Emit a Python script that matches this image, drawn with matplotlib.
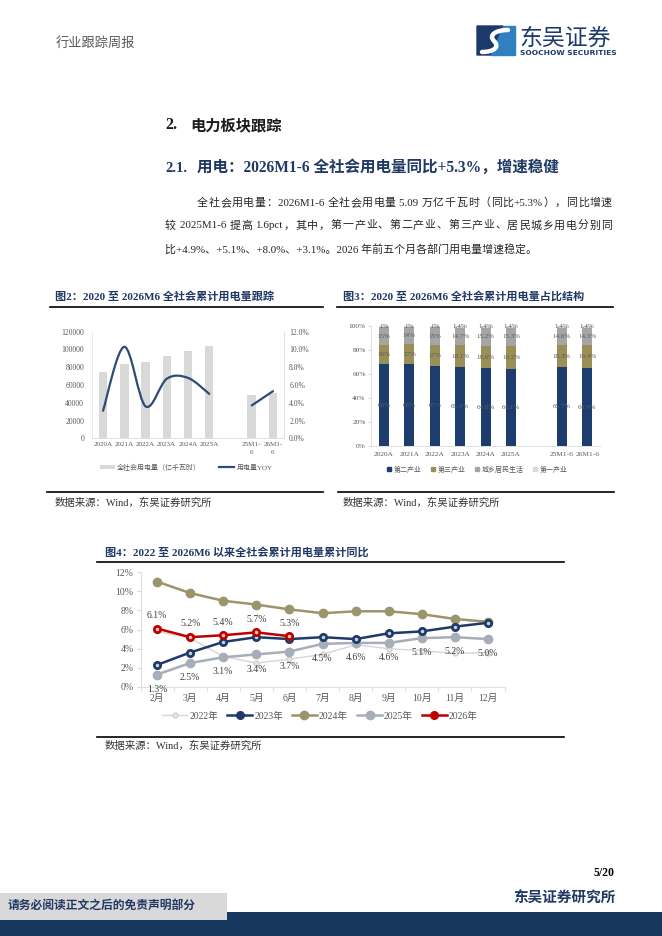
import numpy as np
import matplotlib
matplotlib.use('Agg')
import matplotlib.pyplot as plt
from matplotlib.path import Path
from matplotlib.patches import PathPatch, Rectangle, Polygon, Patch
from matplotlib.lines import Line2D

W, H = 662, 936
SERIF = ['Liberation Serif', 'Noto Sans CJK SC']
CJK = ['Noto Sans CJK SC', 'Liberation Serif']
plt.rcParams['font.family'] = SERIF
plt.rcParams['axes.unicode_minus'] = False

# ---------------- data ----------------
fig2_cats = ['2020A', '2021A', '2022A', '2023A', '2024A', '2025A', '', '25M1-\n6', '26M1-\n6']
fig2_power = [75110, 83128, 86372, 92241, 98521, 103682, np.nan, 48418, 50950]
fig2_yoy = [3.1, 10.3, 3.6, 6.7, 6.8, 5.0, np.nan, 3.7, 5.3]
fig2_left_ticks = [0, 20000, 40000, 60000, 80000, 100000, 120000]
fig2_right_ticks = [0, 2, 4, 6, 8, 10, 12]

fig3_cats = ['2020A', '2021A', '2022A', '2023A', '2024A', '2025A', '', '25M1-6', '26M1-6']
fig3_secondary = [68, 68, 67, 65.8, 64.8, 64.1, np.nan, 65.7, 64.9]
fig3_tertiary = [16, 17, 17, 18.1, 18.6, 19.2, np.nan, 18.3, 19.4]
fig3_resident = [15, 14, 15, 14.7, 15.2, 15.3, np.nan, 14.6, 14.3]
fig3_primary = [1, 1, 1, 1.4, 1.4, 1.4, np.nan, 1.4, 1.4]
fig3_series_names = ['第二产业', '第三产业', '城乡居民生活', '第一产业']
fig3_yticks = [0, 20, 40, 60, 80, 100]

fig4_months = ['2月', '3月', '4月', '5月', '6月', '7月', '8月', '9月', '10月', '11月', '12月']
fig4_2022 = [5.8, 5.1, 3.2, 2.5, 2.9, 3.4, 4.4, 4.0, 3.8, 3.5, 3.6]
fig4_2023 = [2.3, 3.6, 4.7, 5.2, 5.0, 5.2, 5.0, 5.6, 5.8, 6.3, 6.7]
fig4_2024 = [11.0, 9.8, 9.0, 8.6, 8.1, 7.7, 7.9, 7.9, 7.6, 7.1, 6.8]
fig4_2025 = [1.3, 2.5, 3.1, 3.4, 3.7, 4.5, 4.6, 4.6, 5.1, 5.2, 5.0]
fig4_2026 = [6.1, 5.2, 5.4, 5.7, 5.3]
fig4_series_names = ['2022年', '2023年', '2024年', '2025年', '2026年']
fig4_yticks = [0, 2, 4, 6, 8, 10, 12]

para_lines = ['全社会用电量：2026M1-6 全社会用电量 5.09 万亿千瓦时（同比+5.3%），同比增速',
              '较 2025M1-6 提高 1.6pct，其中，第一产业、第二产业、第三产业、居民城乡用电分别同',
              '比+4.9%、+5.1%、+8.0%、+3.1%。2026 年前五个月各部门用电量增速稳定。']

NAVY = '#1f3864'
TXT = '#262626'
TICK = '#595959'
AXC = '#d9d9d9'


def box(x0, y0, x1, y1):
    return [x0 / W, 1 - y1 / H, (x1 - x0) / W, (y1 - y0) / H]


fig = plt.figure(figsize=(W / 100, H / 100), dpi=100)
fig.patch.set_facecolor('white')
renderer = fig.canvas.get_renderer()

# ---------------- overlay (page) ----------------
ov = fig.add_axes([0, 0, 1, 1])
ov.set_xlim(0, W)
ov.set_ylim(H, 0)
ov.axis('off')
ov.patch.set_alpha(0)


def text_width(s, size):
    t = ov.text(0, 0, s + '|', fontsize=size)
    w = t.get_window_extent(renderer).width
    t.remove()
    t2 = ov.text(0, 0, '|', fontsize=size)
    w2 = t2.get_window_extent(renderer).width
    t2.remove()
    return w - w2


def tokens_of(s):
    toks = []
    cur = ''
    for ch in s:
        if ord(ch) < 128:
            cur += ch
        else:
            if cur:
                toks.append(cur)
                cur = ''
            toks.append(ch)
    if cur:
        toks.append(cur)
    return toks


def justified_text(x0, x1, y, s, size, color):
    toks = tokens_of(s)
    total = text_width(s, size)
    extra = (x1 - x0 - total) / max(len(toks) - 1, 1)
    prefix = ''
    for i, tk in enumerate(toks):
        lead = len(tk) - len(tk.lstrip(' '))
        xpos = x0 + text_width(prefix + tk[:lead], size) + i * extra
        ov.text(xpos, y, tk.lstrip(' '), fontsize=size, color=color, va='center')
        prefix += tk


ov.text(56, 43, '行业跟踪周报', fontsize=9.5, color='#595959', family=CJK, va='center')

# logo
ov.add_patch(Polygon([(477, 26), (503, 26), (491, 55), (477, 55)], closed=True, color='#1b3a6b'))
ov.add_patch(Polygon([(503, 26), (515, 26), (515, 55), (491, 55)], closed=True, color='#2f7fc1'))
s_path = Path([(508, 30), (496, 30), (488, 35), (494, 41), (500, 47), (494, 52), (482, 52)],
              [Path.MOVETO, Path.CURVE4, Path.CURVE4, Path.CURVE4, Path.CURVE4, Path.CURVE4, Path.CURVE4])
ov.add_patch(PathPatch(s_path, facecolor='none', edgecolor='white', lw=3.2, capstyle='round'))
ov.text(519, 38, '东吴证券', fontsize=16.5, color='#1b3a6b', family=CJK, va='center', ha='left')
ov.text(520, 53, 'SOOCHOW SECURITIES', fontsize=5.4, color='#1b3a6b', family=['DejaVu Sans'],
        fontweight='bold', va='center', ha='left')

# headings
ov.text(165, 125, '2.', fontsize=11.5, color='#1a1a1a', fontweight='bold', va='center')
ov.text(190, 125, '电力板块跟踪', fontsize=11, color='#1a1a1a', fontweight='bold', va='center', family=CJK)
ov.text(165, 168, '2.1.', fontsize=10.5, color=NAVY, fontweight='bold', va='center')
ov.text(197, 168, '用电：2026M1-6 全社会用电量同比+5.3%，增速稳健', fontsize=11.2, color=NAVY,
        fontweight='bold', va='center')

# paragraph
PS = 7.9
justified_text(197, 612, 203, para_lines[0], PS, TXT)
justified_text(165, 612, 226, para_lines[1], PS, TXT)
ov.text(165, 249, para_lines[2], fontsize=PS, color=TXT, va='center')

# figure titles and rules
ov.text(55, 296, '图2：2020 至 2026M6 全社会累计用电量跟踪', fontsize=8, color=NAVY, fontweight='bold', va='center')
ov.text(343, 296, '图3：2020 至 2026M6 全社会累计用电量占比结构', fontsize=8, color=NAVY, fontweight='bold', va='center')
ov.plot([50, 323], [307, 307], color='black', lw=1.2)
ov.plot([337, 613], [307, 307], color='black', lw=1.2)
ov.plot([47, 323], [492, 492], color='black', lw=1.2)
ov.plot([338, 614], [492, 492], color='black', lw=1.2)
ov.text(55, 503, '数据来源：Wind，东吴证券研究所', fontsize=7.5, color='#333333', va='center')
ov.text(343, 503, '数据来源：Wind，东吴证券研究所', fontsize=7.5, color='#333333', va='center')

ov.text(105, 552, '图4：2022 至 2026M6 以来全社会累计用电量累计同比', fontsize=8, color=NAVY, fontweight='bold', va='center')
ov.plot([97, 564], [562, 562], color='black', lw=1.2)
ov.plot([97, 564], [737, 737], color='black', lw=1.2)
ov.text(105, 746, '数据来源：Wind，东吴证券研究所', fontsize=7.5, color='#333333', va='center')

# footer
ov.text(615, 873, '5/20', fontsize=8.5, color='black', fontweight='bold', ha='right', va='center')
ov.text(615, 898, '东吴证券研究所', fontsize=10.5, color=NAVY, fontweight='bold', ha='right', va='center', family=CJK)
ov.add_patch(Rectangle((0, 912), W, 24, color='#17375e', lw=0))
ov.add_patch(Rectangle((0, 893), 227, 27, color='#d9d9d9', lw=0))
ov.text(8, 906, '请务必阅读正文之后的免责声明部分', fontsize=8.5, color=NAVY, fontweight='bold', va='center', family=CJK)


def style_ticks(ax, size):
    ax.tick_params(axis='both', labelsize=size, colors=TICK, length=0)


# ---------------- Figure 2 ----------------
ax2 = fig.add_axes(box(92.4, 331.7, 283.6, 438.3))
ax2.patch.set_alpha(0)
x2 = np.arange(len(fig2_cats))
ax2.bar(x2, fig2_power, width=0.4, color='#d9d9d9', zorder=2)
ax2.set_xlim(-0.5, len(fig2_cats) - 0.5)
ax2.set_ylim(0, 120000)
ax2.set_yticks(fig2_left_ticks)
ax2.set_yticklabels([str(v) for v in fig2_left_ticks])
ax2.set_xticks(x2)
ax2.set_xticklabels(fig2_cats, linespacing=1.6)
style_ticks(ax2, 5.5)
ax2.tick_params(axis='x', pad=3, labelsize=5.1)
ax2.tick_params(axis='y', pad=6)
for s in ['top', 'right']:
    ax2.spines[s].set_visible(False)
ax2.spines['left'].set_color('#e6e6e6')
ax2.spines['bottom'].set_color(AXC)
ax2.spines['left'].set_linewidth(0.6)
ax2.spines['bottom'].set_linewidth(0.6)

ax2r = ax2.twinx()
ax2r.set_ylim(0, 12)
ax2r.set_yticks(fig2_right_ticks)
ax2r.set_yticklabels(['%.1f%%' % v for v in fig2_right_ticks])
style_ticks(ax2r, 5.5)
ax2r.tick_params(axis='y', pad=4)
for s in ['top', 'left', 'bottom']:
    ax2r.spines[s].set_visible(False)
ax2r.spines['right'].set_color(AXC)
ax2r.spines['right'].set_linewidth(0.6)


def smooth_path(xs, ys):
    pts = np.column_stack([xs, ys])
    n = len(pts)
    verts = [tuple(pts[0])]
    codes = [Path.MOVETO]
    for i in range(n - 1):
        p0 = pts[i - 1] if i > 0 else pts[i]
        p1 = pts[i]
        p2 = pts[i + 1]
        p3 = pts[i + 2] if i + 2 < n else pts[i + 1]
        c1 = p1 + (p2 - p0) / 6.0
        c2 = p2 - (p3 - p1) / 6.0
        verts += [tuple(c1), tuple(c2), tuple(p2)]
        codes += [Path.CURVE4] * 3
    return Path(verts, codes)


yoy = np.array(fig2_yoy, dtype=float)
valid = ~np.isnan(yoy)
groups = []
cur = []
for i in range(len(yoy)):
    if valid[i]:
        cur.append(i)
    else:
        if cur:
            groups.append(cur)
        cur = []
if cur:
    groups.append(cur)
for g in groups:
    p = smooth_path(x2[g].astype(float), yoy[g])
    ax2r.add_patch(PathPatch(p, facecolor='none', edgecolor='#2e4a76', lw=1.6, zorder=3,
                             capstyle='round', joinstyle='round'))

leg2 = fig.legend([Patch(facecolor='#d9d9d9', edgecolor='none'), Line2D([], [], color='#2e4a76', lw=1.6)],
                  ['全社会用电量（亿千瓦时）', '用电量YOY'], loc='center',
                  bbox_to_anchor=(186 / W, 1 - 467 / H), ncol=2, frameon=False, fontsize=5,
                  handlelength=2.2, handleheight=0.5, handletextpad=0.3, columnspacing=2.6)
for t in leg2.get_texts():
    t.set_color(TICK)

# ---------------- Figure 3 ----------------
ax3 = fig.add_axes(box(371.3, 326, 600, 446))
ax3.patch.set_alpha(0)
x3 = np.arange(len(fig3_cats))
cols3 = ['#1c3d6e', '#9a8f57', '#a5a5a5', '#d9d9d9']
series3 = [fig3_secondary, fig3_tertiary, fig3_resident, fig3_primary]
bottom = np.zeros(len(x3))
for vals, col, name in zip(series3, cols3, fig3_series_names):
    v = np.array(vals, dtype=float)
    ax3.bar(x3, v, width=0.4, bottom=bottom, color=col, label=name, zorder=2)
    for xi, (b, h) in enumerate(zip(bottom, v)):
        if np.isnan(h):
            continue
        lab = ('%d%%' % round(h)) if abs(h - round(h)) < 1e-9 else ('%.1f%%' % h)
        ax3.text(xi, b + h / 2, lab, ha='center', va='center', fontsize=5, color='#595959', zorder=4)
    bottom = bottom + np.nan_to_num(v)
ax3.set_xlim(-0.5, len(x3) - 0.5)
ax3.set_ylim(0, 100)
ax3.set_yticks(fig3_yticks)
ax3.set_yticklabels(['%d%%' % v for v in fig3_yticks])
ax3.set_xticks(x3)
ax3.set_xticklabels(fig3_cats)
style_ticks(ax3, 5.3)
ax3.tick_params(axis='y', length=2, color=AXC, pad=2)
ax3.tick_params(axis='x', pad=4)
for s in ['top', 'right']:
    ax3.spines[s].set_visible(False)
for s in ['left', 'bottom']:
    ax3.spines[s].set_color(AXC)
    ax3.spines[s].set_linewidth(0.6)

h3 = [Line2D([], [], marker='s', linestyle='none', markersize=3.5, color=c) for c in cols3]
leg3 = fig.legend(h3, fig3_series_names, loc='center', bbox_to_anchor=(477 / W, 1 - 469 / H), ncol=4,
                  frameon=False, fontsize=5, handlelength=0.8, handletextpad=0.2, columnspacing=1.3)
for t in leg3.get_texts():
    t.set_color(TICK)

# ---------------- Figure 4 ----------------
ax4 = fig.add_axes(box(140.5, 572, 504.5, 687))
ax4.patch.set_alpha(0)
x4 = np.arange(len(fig4_months))
l22, = ax4.plot(x4, fig4_2022, color='#d6d6d6', lw=1.0, marker='o', markersize=3.5,
                markerfacecolor='#e8e8e8', markeredgecolor='#d0d0d0', zorder=2)
l23, = ax4.plot(x4, fig4_2023, color='#1f3a68', lw=1.8, marker='o', markersize=5.5,
                markerfacecolor='#1f3a68', markeredgecolor='#1f3a68', zorder=4)
ax4.plot(x4, fig4_2023, linestyle='none', marker='o', markersize=1.5, color='#c8d2e0', zorder=5)
l24, = ax4.plot(x4, fig4_2024, color='#9c946a', lw=1.8, marker='o', markersize=6,
                markerfacecolor='#9c946a', markeredgecolor='#9c946a', zorder=3)
l25, = ax4.plot(x4, fig4_2025, color='#a7adb9', lw=1.8, marker='o', markersize=6,
                markerfacecolor='#a7adb9', markeredgecolor='#a7adb9', zorder=3)
x26 = np.arange(len(fig4_2026))
l26, = ax4.plot(x26, fig4_2026, color='#c00000', lw=1.8, marker='o', markersize=5.5,
                markerfacecolor='#c00000', markeredgecolor='#c00000', zorder=6)
ax4.plot(x26, fig4_2026, linestyle='none', marker='o', markersize=1.5, color='#f0c8c8', zorder=7)

for xi, v in zip(x4, fig4_2025):
    ax4.annotate('%.1f%%' % v, (xi, v), xytext=(0, -10.5), textcoords='offset points',
                 ha='center', va='center', fontsize=7, color='#404040', zorder=8)
for xi, v in zip(x26, fig4_2026):
    ax4.annotate('%.1f%%' % v, (xi, v), xytext=(0, 9.5), textcoords='offset points',
                 ha='center', va='center', fontsize=7, color='#404040', zorder=8)

ax4.set_xlim(-0.5, len(x4) - 0.5)
ax4.set_ylim(0, 12)
ax4.set_yticks(fig4_yticks)
ax4.set_yticklabels(['%d%%' % v for v in fig4_yticks])
ax4.set_xticks(x4)
ax4.set_xticklabels(fig4_months)
ax4.set_xticks(np.arange(-0.5, len(x4)), minor=True)
ax4.tick_params(axis='both', labelsize=7, colors=TICK)
ax4.tick_params(axis='x', which='major', length=0, pad=5)
ax4.tick_params(axis='x', which='minor', length=3, color=AXC)
ax4.tick_params(axis='y', length=3, color=AXC, pad=2)
for s in ['top', 'right']:
    ax4.spines[s].set_visible(False)
for s in ['left', 'bottom']:
    ax4.spines[s].set_color(AXC)
    ax4.spines[s].set_linewidth(0.6)

leg4 = fig.legend([l22, l23, l24, l25, l26], fig4_series_names, loc='center',
                  bbox_to_anchor=(320 / W, 1 - 716 / H), ncol=5, frameon=False, fontsize=7,
                  handlelength=2.6, handletextpad=0.2, columnspacing=0.9)
for t in leg4.get_texts():
    t.set_color(TICK)

fig.savefig('out.png', dpi=100, facecolor='white')
